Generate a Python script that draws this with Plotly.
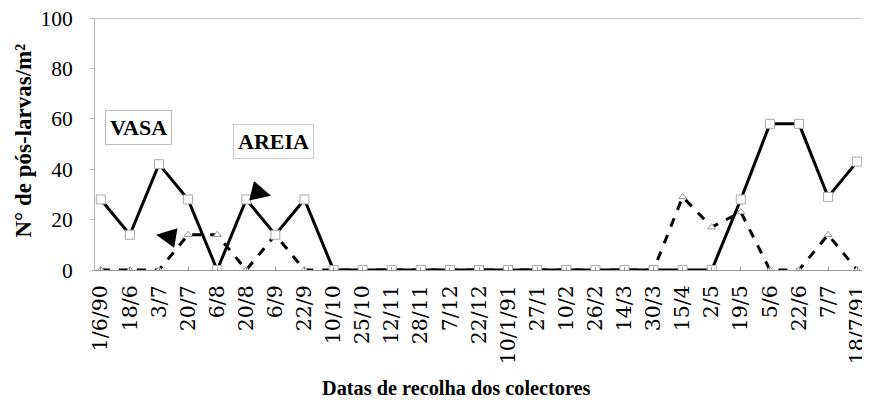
import plotly.graph_objects as go

datas = ['1/6/90', '18/6', '3/7', '20/7', '6/8', '20/8', '6/9', '22/9', '10/10', '25/10',
         '12/11', '28/11', '7/12', '22/12', '10/1/91', '27/1', '10/2', '26/2', '14/3', '30/3',
         '15/4', '2/5', '19/5', '5/6', '22/6', '7/7', '18/7/91']

vasa = [28, 14, 42, 28, 0, 28, 14, 28, 0, 0,
        0, 0, 0, 0, 0, 0, 0, 0, 0, 0,
        0, 0, 28, 58, 58, 29, 43]

areia = [0, 0, 0, 14, 14, 0, 14, 0, 0, 0,
         0, 0, 0, 0, 0, 0, 0, 0, 0, 0,
         29, 17, 23, 0, 0, 14, 0]

serif = 'Liberation Serif'
serif_largo = 'DejaVu Serif'

fig = go.Figure()

fig.add_trace(go.Scatter(
    x=datas, y=areia, mode='lines+markers', name='AREIA',
    line=dict(color='black', width=3, dash='dash'),
    marker=dict(symbol='triangle-up', size=7, color='white',
                line=dict(color='#999999', width=1)),
))

fig.add_trace(go.Scatter(
    x=datas, y=vasa, mode='lines+markers', name='VASA',
    line=dict(color='black', width=3),
    marker=dict(symbol='square', size=9, color='white',
                line=dict(color='#aaaaaa', width=1)),
))

# etiquetas das series
fig.add_annotation(x=1.3, y=56.7, text='<b>VASA</b>', showarrow=False,
                   font=dict(family=serif, size=22, color='black'),
                   bordercolor='#bbbbbb', borderwidth=1, borderpad=4, bgcolor='white')
fig.add_annotation(x=5.95, y=51, text='<b>AREIA</b>', showarrow=False,
                   font=dict(family=serif, size=22, color='black'),
                   bordercolor='#cccccc', borderwidth=1, borderpad=4, bgcolor='white')

# pontas de seta
fig.add_annotation(x=1.9, y=14, ax=12, ay=2, text='', showarrow=True,
                   arrowhead=2, arrowsize=2, arrowwidth=2, arrowcolor='black')
fig.add_annotation(x=5.85, y=29.5, ax=-12, ay=-3, text='', showarrow=True,
                   arrowhead=2, arrowsize=2, arrowwidth=2, arrowcolor='black')

# titulos dos eixos
fig.add_annotation(xref='paper', yref='paper', x=0.471, y=-0.47,
                   text='<b>Datas de recolha dos colectores</b>', showarrow=False,
                   font=dict(family=serif, size=20.3, color='black'),
                   xanchor='center', yanchor='middle')
fig.add_annotation(xref='paper', yref='paper', x=-0.093, y=0.512, textangle=-90,
                   text='<b>N° de pós-larvas/m²</b>', showarrow=False,
                   font=dict(family=serif, size=23, color='black'),
                   xanchor='center', yanchor='middle')

fig.update_layout(
    width=862, height=395,
    margin=dict(l=87, r=7, t=10, b=133),
    paper_bgcolor='white', plot_bgcolor='white',
    showlegend=False,
    font=dict(family=serif, color='black'),
)

fig.update_xaxes(
    type='category', tickangle=-90, automargin=False,
    tickfont=dict(family=serif_largo, size=20.5),
    ticklabelstandoff=6,
    showgrid=False, showline=True, linecolor='#999999', linewidth=1,
    ticks='inside', ticklen=3, tickcolor='#999999',
    range=[-0.2, 26.2],
)

fig.update_yaxes(
    range=[0, 100], tickvals=[0, 20, 40, 60, 80, 100], automargin=False,
    tickfont=dict(family=serif, size=21.5),
    ticklabeloverflow='allow', ticklabelstandoff=13,
    showgrid=False, showline=True, linecolor='#bbbbbb', linewidth=1,
    ticks='outside', ticklen=4, tickcolor='#bbbbbb',
    zeroline=False,
)

# linha superior em 100
fig.add_hline(y=100, line=dict(color='#999999', width=1))

fig.write_html('out.html')
